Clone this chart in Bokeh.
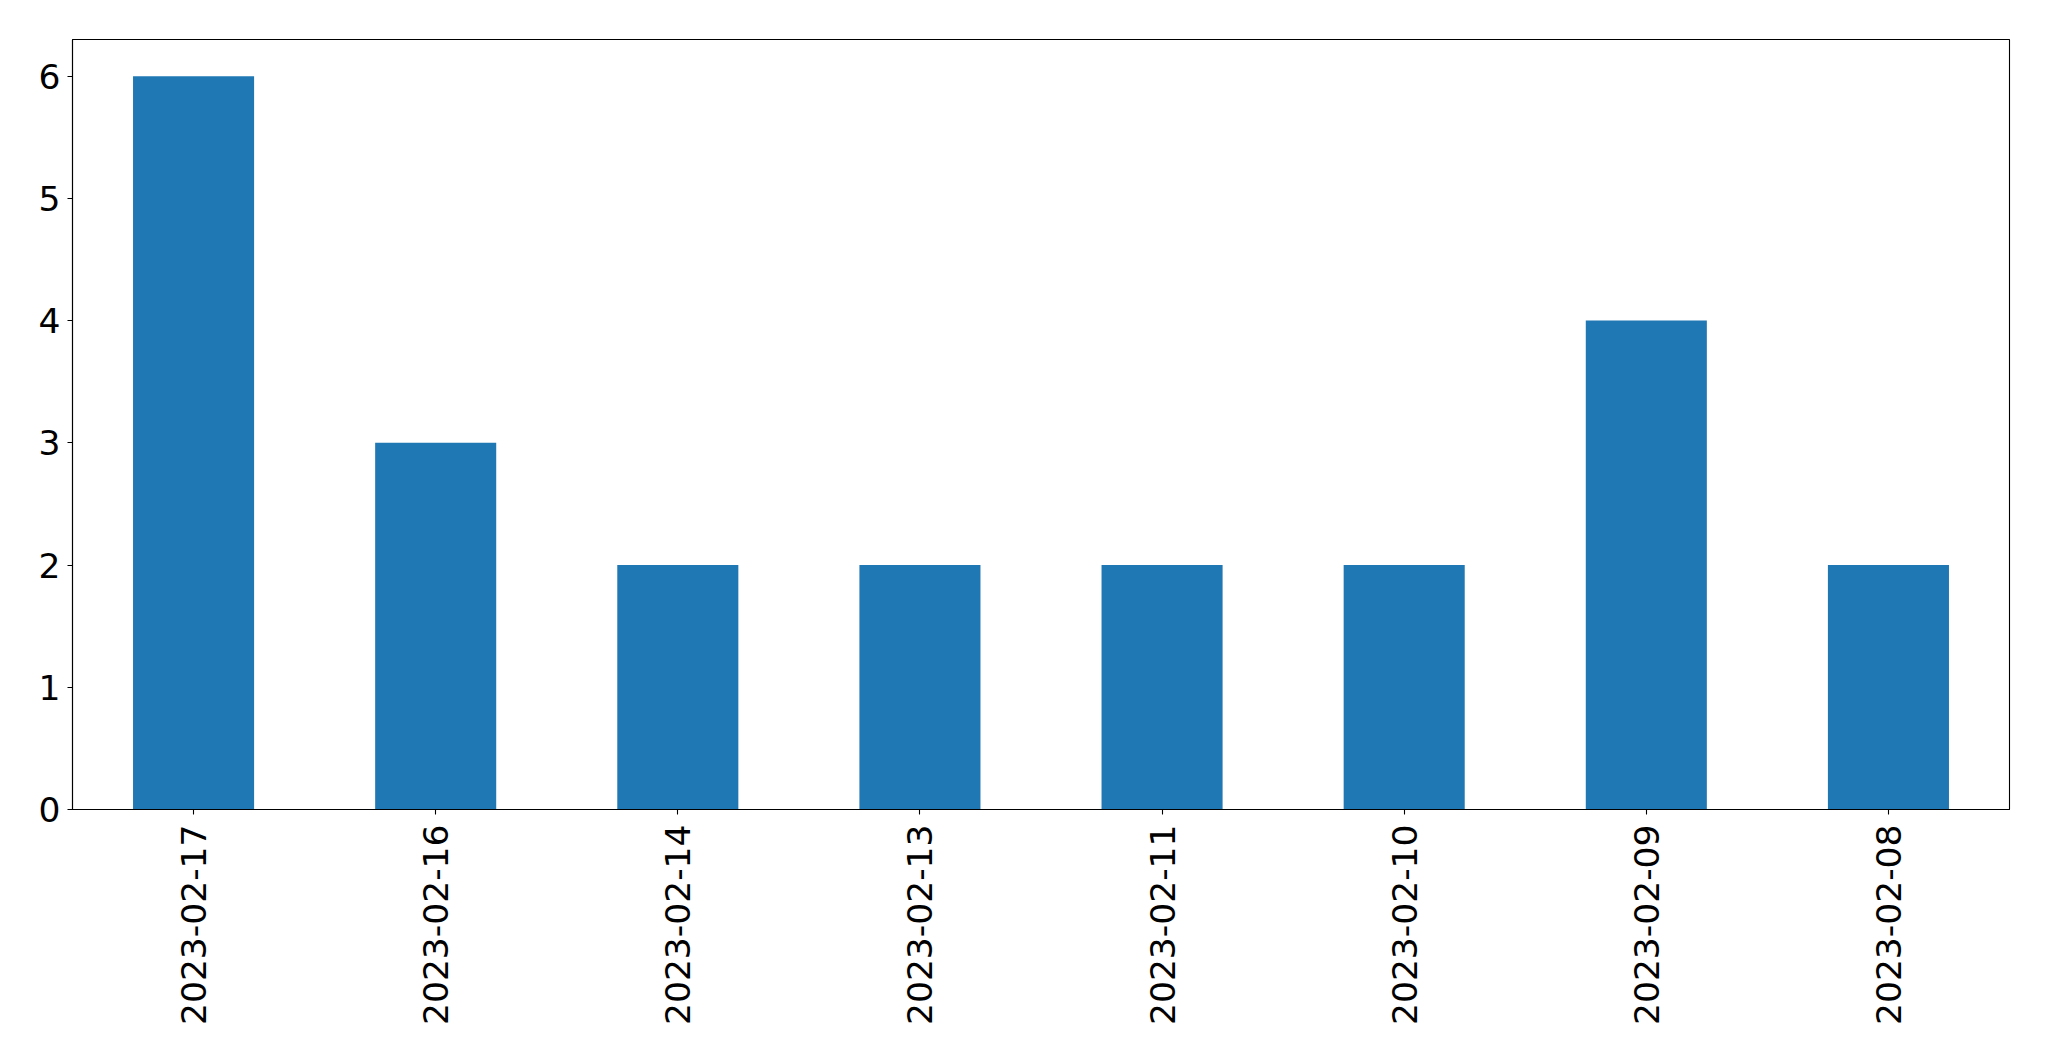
import math
from bokeh.plotting import figure
from bokeh.models import Range1d, FixedTicker, ColumnDataSource
from bokeh.embed import file_html
from bokeh.resources import INLINE

dates = ['2023-02-17', '2023-02-16', '2023-02-14', '2023-02-13',
         '2023-02-11', '2023-02-10', '2023-02-09', '2023-02-08']
counts = [6, 3, 2, 2, 2, 2, 4, 2]
y_ticks = [0, 1, 2, 3, 4, 5, 6]

src = ColumnDataSource(dict(date=dates, count=counts))

p = figure(x_range=dates, y_range=Range1d(0, 6.3), width=2033, height=1045,
           output_backend="svg", toolbar_location=None,
           min_border_left=72, min_border_top=39, min_border_right=24,
           min_border_bottom=236)

p.vbar(x='date', top='count', bottom=0, width=0.5, source=src,
       fill_color="#1f77b4", line_color=None)

p.xgrid.visible = False
p.ygrid.visible = False
p.outline_line_color = "black"
p.outline_line_width = 1.1
p.background_fill_color = "white"
p.border_fill_color = "white"

p.x_range.range_padding = 0

for ax in (p.xaxis[0], p.yaxis[0]):
    ax.axis_line_color = "black"
    ax.axis_line_width = 1.1
    ax.major_tick_line_color = "black"
    ax.major_tick_line_width = 1.1
    ax.major_tick_out = 5
    ax.major_tick_in = 0
    ax.minor_tick_line_color = None
    ax.major_label_text_font = "DejaVu Sans"
    ax.major_label_text_font_size = "34.5px"
    ax.major_label_text_color = "black"

p.yaxis[0].ticker = FixedTicker(ticks=y_ticks)
p.yaxis[0].major_label_standoff = 7
p.xaxis[0].major_label_orientation = math.pi / 2
p.xaxis[0].major_label_standoff = 10

open("out.html", "w").write(file_html(p, INLINE))
